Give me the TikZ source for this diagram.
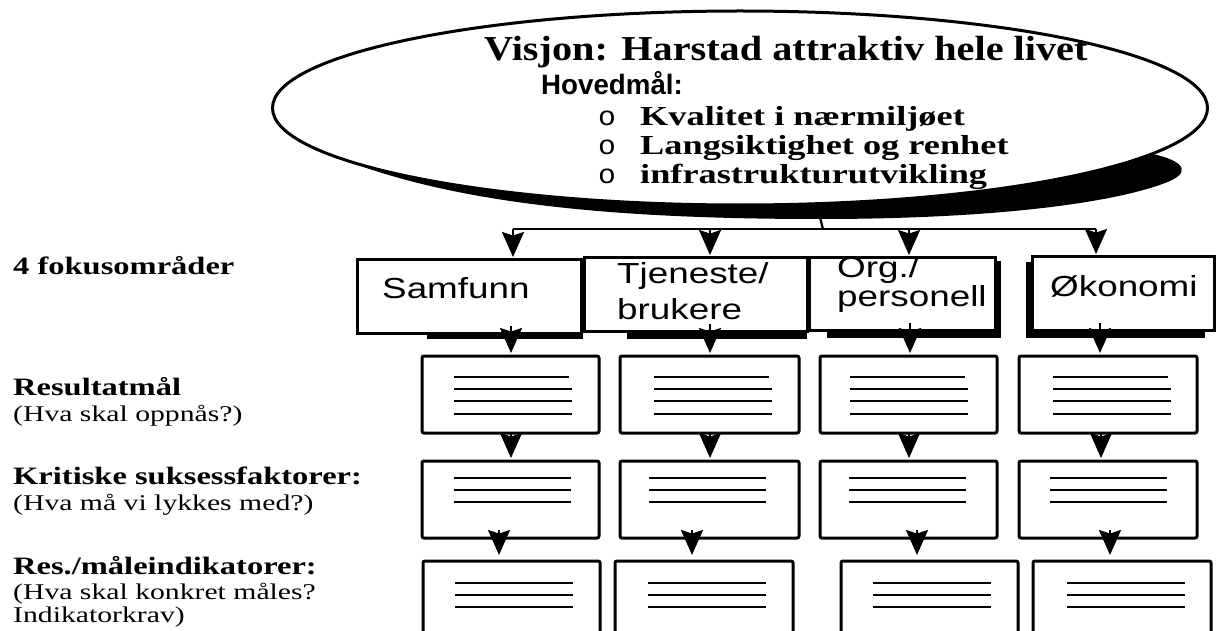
\documentclass[tikz,border=0pt]{standalone}
\usepackage{fontspec}
\setmainfont{Liberation Serif}
\setsansfont{Liberation Sans}
\newfontfamily\monof{Liberation Mono}
\usepackage{graphicx}
\usetikzlibrary{arrows.meta,shapes.geometric,calc}
\newcommand{\hs}[2]{\scalebox{#1}[1]{#2}}
\begin{document}
\begin{tikzpicture}[x=1pt,y=-1pt,
  bx/.style={draw, line width=3pt, fill=white, rectangle, anchor=north west, inner sep=0pt, outer sep=0pt},
  rbx/.style={bx, rounded corners=2pt},
  ln/.style={line width=2.6pt},
  arr/.style={line width=2pt, -{Stealth[length=25pt,width=22pt,inset=3.5pt]}},
  conn/.style={line width=2.2pt},
  lbl/.style={anchor=base west, inner sep=0pt, font=\fontsize{25}{25}\selectfont\bfseries},
  lbr/.style={anchor=base west, inner sep=0pt, font=\fontsize{22.5}{22.5}\selectfont},
  ftx/.style={anchor=base west, inner sep=0pt, font=\sffamily\fontsize{29}{29}\selectfont},
  itx/.style={anchor=base west, inner sep=0pt, font=\fontsize{27.5}{27.5}\selectfont\bfseries},
  bul/.style={anchor=base west, inner sep=0pt, font=\monof\fontsize{27}{27}\selectfont},
]
\useasboundingbox (0,0) rectangle (1217,631);
\clip (0,0) rectangle (1217,631);

% ellipse shadow
\fill (300,140) .. controls (420,202) and (600,219) .. (820,219)
  .. controls (1000,219) and (1120,202) .. (1170,181)
  .. controls (1194,170) and (1182,157) .. (1130,150) -- (740,120) -- cycle;
% vision ellipse
\node[draw, ellipse, line width=3pt, fill=white, minimum width=935pt, minimum height=194pt, inner sep=0pt] (vis) at (740,108) {};

\node[anchor=base west, inner sep=0pt, font=\fontsize{35}{35}\selectfont\bfseries] (title) at (484,61) {\hs{1.15}{Visjon: Harstad attraktiv hele livet}};
\node[anchor=base west, inner sep=0pt, font=\sffamily\bfseries\fontsize{28}{28}\selectfont] (hm) at (541,95) {\hs{0.99}{Hovedmål:}};
\node[bul] (b1) at (598,126) {\hs{1.1}{o}};
\node[bul] (b2) at (598,155) {\hs{1.1}{o}};
\node[bul] (b3) at (598,184) {\hs{1.1}{o}};
\node[itx] (i1) at (640,126) {\hs{1.32}{Kvalitet i nærmiljøet}};
\node[itx] (i2) at (640,155) {\hs{1.32}{Langsiktighet og renhet}};
\node[itx] (i3) at (640,184) {\hs{1.32}{infrastrukturutvikling}};

% distribution line
\coordinate (hub) at (823,229);
\coordinate (h1) at (513,229);
\coordinate (h2) at (710,229);
\coordinate (h3) at (909,229);
\coordinate (h4) at (1096,229);
\draw[conn] ($(vis.south)+(80,11)$) -- (hub);
\draw[conn] (h1) -- (h4);

% focus boxes shadows
\fill (427,332) rectangle (583,339);
\fill (627,330) rectangle (807,339);
\fill (827,329) rectangle (1001,338);
\fill (995,261) rectangle (1001,338);
\fill (1026,262) rectangle (1032,338);
\fill (1026,329) rectangle (1205,338);

% focus boxes
\node[bx, minimum width=224pt, minimum height=74pt] (f1) at (357,259) {};
\node[bx, minimum width=223pt, minimum height=74pt] (f2) at (584,257) {};
\node[bx, minimum width=186pt, minimum height=73pt] (f3) at (809,257) {};
\node[bx, minimum width=182pt, minimum height=74pt] (f4) at (1032,256) {};

\node[ftx] (t1) at (382,298) {\hs{1.27}{Samfunn}};
\node[ftx] (t2a) at (617,283) {\hs{1.27}{Tjeneste/}};
\node[ftx] (t2b) at (617,319) {\hs{1.27}{brukere}};
\begin{scope}
\clip (f3.north west) rectangle (f3.south east);
\node[ftx] (t3a) at (837,277) {\hs{1.27}{Org./}};
\end{scope}
\node[ftx] (t3b) at (837,306) {\hs{1.27}{personell}};
\node[ftx] (t4) at (1050,296) {\hs{1.27}{Økonomi}};

\foreach \i in {1,2,3,4}
  \draw[arr] (h\i) -- ($(f\i.north -| h\i)+(0,-2)$);

% row 2
\node[rbx, minimum width=177pt, minimum height=77pt] (a1) at (422,356) {};
\node[rbx, minimum width=179pt, minimum height=77pt] (a2) at (620,356) {};
\node[rbx, minimum width=177pt, minimum height=77pt] (a3) at (820,356) {};
\node[rbx, minimum width=178pt, minimum height=77pt] (a4) at (1019,356) {};
\foreach \l in {454,654,850,1053} {
  \draw[ln] (\l,377) -- ++(115,0);
  \foreach \yy in {389,401,414} \draw[ln] (\l,\yy) -- ++(118,0);
}
% row 3
\node[rbx, minimum width=177pt, minimum height=77pt] (c1) at (422,461) {};
\node[rbx, minimum width=179pt, minimum height=77pt] (c2) at (620,461) {};
\node[rbx, minimum width=177pt, minimum height=77pt] (c3) at (820,461) {};
\node[rbx, minimum width=178pt, minimum height=77pt] (c4) at (1019,461) {};
\foreach \l in {454,649,849,1050} {
  \foreach \yy in {478,490,502} \draw[ln] (\l,\yy) -- ++(117,0);
}
% row 4
\node[rbx, minimum width=177pt, minimum height=90pt] (d1) at (423,561) {};
\node[rbx, minimum width=178pt, minimum height=90pt] (d2) at (615,561) {};
\node[rbx, minimum width=177pt, minimum height=90pt] (d3) at (841,561) {};
\node[rbx, minimum width=178pt, minimum height=90pt] (d4) at (1033,561) {};
\foreach \l in {455,648,873,1067} {
  \foreach \yy in {583,595,607} \draw[ln] (\l,\yy) -- ++(118,0);
}

% arrows between rows
\foreach \i/\xx in {1/511,2/710,3/910,4/1100} {
  \coordinate (p\i) at (\xx,0);
  \draw[arr] ($(f\i.south -| p\i)+(0,-7)$) -- ($(a\i.north -| p\i)+(0,-3)$);
}
\foreach \i/\xx in {1/511,2/710,3/909,4/1101} {
  \coordinate (q\i) at (\xx,0);
  \draw[arr] ($(a\i.south -| q\i)+(0,-1)$) -- ($(c\i.north -| q\i)+(0,-3)$);
}
\foreach \i/\xx in {1/499,2/692,3/917,4/1110} {
  \coordinate (s\i) at (\xx,0);
  \draw[arr] ($(c\i.south -| s\i)+(0,-8)$) -- ($(d\i.north -| s\i)+(0,-6)$);
}

% left labels
\node[lbl] (l1) at (13,274) {\hs{1.3}{4 fokusområder}};
\node[lbl] (l2) at (13,395) {\hs{1.3}{Resultatmål}};
\node[lbr] (l2b) at (13,421) {\hs{1.32}{(Hva skal oppnås?)}};
\node[lbl] (l3) at (13,484) {\hs{1.3}{Kritiske suksessfaktorer:}};
\node[lbr] (l3b) at (13,510) {\hs{1.32}{(Hva må vi lykkes med?)}};
\node[lbl] (l4) at (13,574) {\hs{1.3}{Res./måleindikatorer:}};
\node[lbr] (l4b) at (13,599) {\hs{1.32}{(Hva skal konkret måles?}};
\node[lbr] (l4c) at (13,622) {\hs{1.32}{Indikatorkrav)}};
\end{tikzpicture}
\end{document}
